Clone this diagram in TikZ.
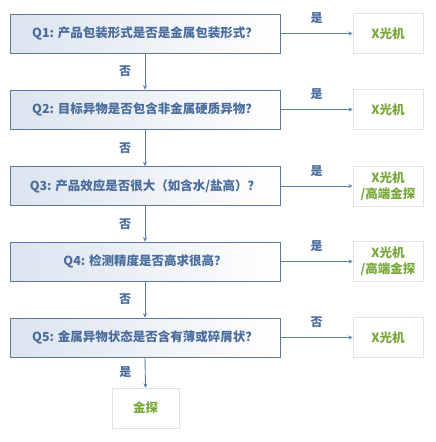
\documentclass[tikz,border=0pt]{standalone}
\usepackage{fontspec}
\setmainfont{Noto Sans CJK SC}
\usepackage{xcolor}
\usepackage{tikz}
\definecolor{flowEdge}{HTML}{5A7698}
\definecolor{flowFill}{HTML}{DCE4EF}
\definecolor{flowText}{HTML}{4A6C9C}
\definecolor{flowArrow}{HTML}{5F80A6}
\definecolor{flowGreen}{HTML}{78A83C}
\definecolor{flowGray}{HTML}{E2E2E2}
\tikzset{
  qbox/.style={draw=flowEdge, line width=0.9pt, left color=flowFill, right color=white,
    minimum width=270pt, minimum height=39pt, inner sep=0pt, text=flowText,
    font=\fontsize{12.5}{15}\selectfont\bfseries},
  abox/.style={draw=flowGray, line width=0.6pt, fill=white, minimum width=70pt,
    minimum height=40pt, inner sep=0pt, align=center, text=flowGreen,
    font=\fontsize{12.5}{16}\selectfont\bfseries},
  go/.style={-stealth, line width=0.9pt, flowArrow},
  ans/.style={text=flowText, font=\fontsize{12}{14}\selectfont\bfseries},
}
\begin{document}
\begin{tikzpicture}[x=1pt, y=-1pt]
  \useasboundingbox (0,0) rectangle (436,442);
  % question column
  \node[qbox] (q1) at (145,33.5)  {Q1: 产品包装形式是否是金属包装形式？};
  \node[qbox] (q2) at (145,109.5) {Q2: 目标异物是否包含非金属硬质异物？};
  \node[qbox] (q3) at (145,186)   {Q3: 产品效应是否很大（如含水/盐高）？};
  \node[qbox] (q4) at (145,261.5) {Q4: 检测精度是否高求很高？};
  \node[qbox] (q5) at (145,337.5) {Q5: 金属异物状态是否含有薄或碎屑状？};
  % answers
  \node[abox] (a1) at (388,33.5)  {X光机};
  \node[abox] (a2) at (388,109.5) {X光机};
  \node[abox] (a3) at (388,186)   {X光机\\/高端金探};
  \node[abox] (a4) at (388,261.5) {X光机\\/高端金探};
  \node[abox] (a5) at (388,337.5) {X光机};
  \node[abox, minimum width=67pt] (a6) at (145.5,408) {金探};
  % yes branches
  \draw[go] (q1.east) -- (a1.west) node[midway, above=6pt, ans] {是};
  \draw[go] (q2.east) -- (a2.west) node[midway, above=6pt, ans] {是};
  \draw[go] (q3.east) -- (a3.west) node[midway, above=6pt, ans] {是};
  \draw[go] (q4.east) -- (a4.west) node[midway, above=6pt, ans] {是};
  \draw[go] (q5.east) -- (a5.west) node[midway, above=6pt, ans] {否};
  % no branches
  \draw[go] (q1.south) -- (q2.north) node[midway, left=10pt, ans] {否};
  \draw[go] (q2.south) -- (q3.north) node[midway, left=10pt, ans] {否};
  \draw[go] (q3.south) -- (q4.north) node[midway, left=10pt, ans] {否};
  \draw[go] (q4.south) -- (q5.north) node[midway, left=10pt, ans] {否};
  \draw[go] (q5.south) -- (a6.north) node[midway, left=10pt, ans] {是};
\end{tikzpicture}
\end{document}
